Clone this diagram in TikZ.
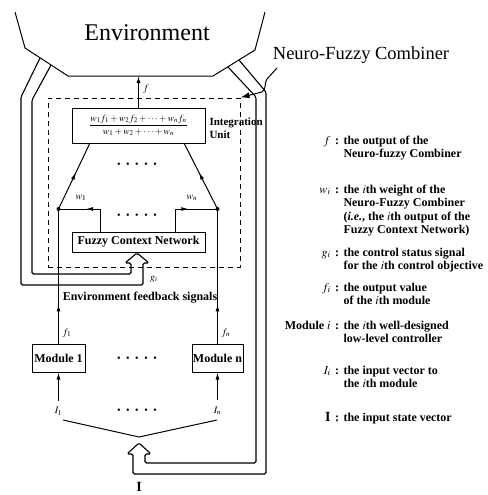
\documentclass[tikz,border=0pt]{standalone}
\usepackage{mathptmx}
\usepackage{fontspec}
\setmainfont{Liberation Serif}
\usetikzlibrary{positioning,calc,arrows.meta,decorations.markings}

\newcommand{\dotrow}{\textbullet\hspace{5.6pt}\textbullet\hspace{5.6pt}\textbullet\hspace{5.6pt}\textbullet\hspace{5.6pt}\textbullet}

\begin{document}
\begin{tikzpicture}[x=1pt, y=-1pt, line width=1pt,
    box/.style={draw, inner sep=0pt, font=\fontsize{12}{14}\selectfont\bfseries},
    lbl/.style={inner sep=0pt, font=\fontsize{10}{12}\selectfont\bfseries},
    sym/.style={inner sep=0pt, anchor=base east, font=\fontsize{12}{13}\selectfont\bfseries},
    colon/.style={inner sep=0pt, anchor=base, font=\fontsize{12}{13}\selectfont\bfseries},
    legtext/.style={inner sep=0pt, anchor=north west, align=left, font=\fontsize{12}{13.2}\selectfont\bfseries},
    tip/.style={-{Latex[length=7pt,width=4pt]}},
    midarrow/.style={postaction={decorate}, decoration={markings, mark=at position #1 with {\arrow{Latex[length=7pt,width=4pt]}}}},
    bus/.style={line width=1.1pt, rounded corners=1.5pt}]
    \useasboundingbox (0,0) rectangle (487,495);

    % Environment
    \node[font=\fontsize{24}{24}\selectfont] (env) at (147,33) {Environment};
    \draw (15,12) -- (25,48) -- (68,76) -- (213,76) -- (255,50) -- (265,12);
    \coordinate (envbot) at (138.5,76);

    % Neuro-Fuzzy Combiner (dashed frame)
    \node[draw, dash pattern=on 5pt off 4pt, minimum width=192, minimum height=169, inner sep=0pt] (combiner) at (144,182.5) {};
    \node[inner sep=0pt, font=\fontsize{18.5}{20}\selectfont] (nfcname) at (361,55) {Neuro-Fuzzy Combiner};
    \coordinate (leadtop) at (277,68);
    \draw[-{Latex[length=9pt,width=6pt]}] (leadtop) -- (267,79) .. controls (264,83) and (267,88) .. (262,92) -- (combiner.north east);

    % Integration Unit
    \node[box, minimum width=133, minimum height=35] (intu) at (138.5,125.5)
        {\fontsize{9.5}{10}\selectfont$\displaystyle\frac{w_1f_1+w_2f_2+\cdots+w_nf_n}{w_1+w_2+\cdots+w_n}$};
    \node[lbl, anchor=west, align=left, font=\fontsize{11}{13}\selectfont\bfseries] (intlab) at (209,128) {Integration\\Unit};
    \draw[tip] (intu.north) -- (envbot);
    \node[lbl] (flab) at (146,89) {$f$};

    % weights into the Integration Unit
    \coordinate (jl) at (58.5,209);
    \coordinate (jr) at (217.5,209);
    \coordinate (il) at (90,143);
    \coordinate (ir) at (184,143);
    \draw[midarrow=0.55] (jl) -- (il);
    \draw[midarrow=0.55] (jr) -- (ir);
    \fill (jl) circle (2);
    \fill (jr) circle (2);
    \node (dotsint) at (137,165) {\dotrow};

    % Fuzzy Context Network
    \node[box, minimum width=133, minimum height=20] (fcn) at (138.5,242) {Fuzzy Context Network};
    \coordinate (wl) at (100,209);
    \coordinate (wr) at (175,209);
    \draw[midarrow=0.57] (fcn.north -| wl) -- (wl) -- (jl);
    \draw[midarrow=0.55] (fcn.north -| wr) -- (wr) -- (jr);
    \node[lbl] (w1lab) at (81,198) {$w_1$};
    \node[lbl] (wnlab) at (192,198) {$w_n$};
    \node (dotsw) at (137,216) {\dotrow};
    \node[lbl] (glab) at (154,279) {$g_i$};
    \node[box, draw=none] (fbtext) at (140,298) {Environment feedback signals};

    % Modules
    \node[box, minimum width=53, minimum height=28] (mod1) at (58.5,358) {Module 1};
    \node[box, minimum width=51, minimum height=28] (modn) at (217.5,358) {Module n};
    \node (dotsmod) at (137,359) {\dotrow};
    \draw[midarrow=0.29] (mod1.north) -- (jl);
    \draw[midarrow=0.29] (modn.north) -- (jr);
    \node[lbl] (f1lab) at (67,333) {$f_1$};
    \node[lbl] (fnlab) at (226,333) {$f_n$};

    % inputs
    \node[lbl] (in1) at (58.5,411) {$I_1$};
    \node[lbl] (inn) at (217.5,411) {$I_n$};
    \node (dotsin) at (137,411) {\dotrow};
    \draw[tip] ([yshift=6pt]in1.north) -- (mod1.south);
    \draw[tip] ([yshift=6pt]inn.north) -- (modn.south);
    \coordinate (vl) at (63,420);
    \coordinate (vapex) at (139,437);
    \coordinate (vr) at (217,420);
    \draw (vl) -- (vapex) -- (vr);
    \node[inner sep=0pt, font=\fontsize{14}{14}\selectfont\bfseries] (invec) at (139,487) {I};

    % combiner bus, left (feedback to Fuzzy Context Network)
    \draw[bus] (40,58) -- (21,97) -- (21,285) -- (143,285) -- (143,263) -- (149,263) -- (137,253)
        -- (125,263) -- (131,263) -- (131,274) -- (32,274) -- (32,100) -- (51,65);
    % combiner bus, right (input state vector)
    \draw[bus] (239,60) -- (266,92) -- (266,474) -- (133,474) -- (133,454) -- (127,454) -- (139,443)
        -- (151,454) -- (145,454) -- (145,463) -- (256,463) -- (256,97) -- (228,67);

    % legend
    \node[sym] (legfsym) at (331,144) {$f$};
    \node[colon] (legfcol) at (337,144) {:};
    \node[legtext] (legf) at (343,135.8) {the output of the\\Neuro-fuzzy Combiner};

    \node[sym] (legwsym) at (331,193) {$w_i$};
    \node[colon] (legwcol) at (337,193) {:};
    \node[legtext] (legw) at (343,184.8) {the $i$th weight of the\\Neuro-Fuzzy Combiner\\(\textit{i.e.}, the $i$th output of the\\Fuzzy Context Network)};

    \node[sym] (leggsym) at (331,256) {$g_i$};
    \node[colon] (leggcol) at (337,256) {:};
    \node[legtext] (legg) at (343,247.8) {the control status signal\\for the $i$th control objective};

    \node[sym] (legfisym) at (331,291) {$f_i$};
    \node[colon] (legficol) at (337,291) {:};
    \node[legtext] (legfi) at (343,282.8) {the output value\\of the $i$th module};

    \node[sym] (legmsym) at (331,329) {Module $i$};
    \node[colon] (legmcol) at (337,329) {:};
    \node[legtext] (legm) at (343,320.8) {the $i$th well-designed\\low-level controller};

    \node[sym] (legisym) at (331,374) {$I_i$};
    \node[colon] (legicol) at (337,374) {:};
    \node[legtext] (legi) at (343,365.8) {the input vector to\\the $i$th module};

    \node[sym, font=\fontsize{14}{14}\selectfont\bfseries] (legvsym) at (331,421) {I};
    \node[colon] (legvcol) at (337,421) {:};
    \node[legtext] (legv) at (343,412.8) {the input state vector};
\end{tikzpicture}
\end{document}
